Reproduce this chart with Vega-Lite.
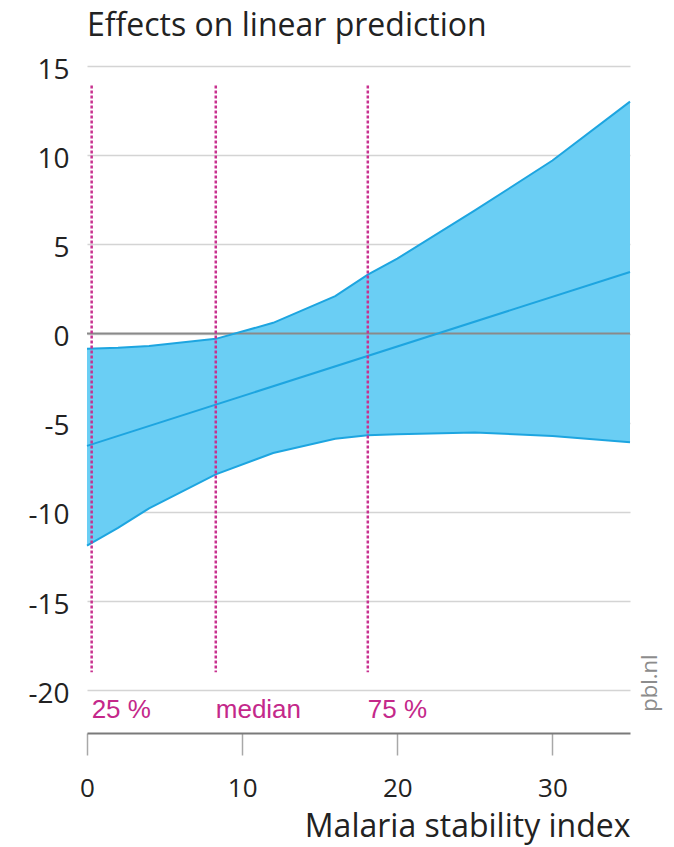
{
  "$schema": "https://vega.github.io/schema/vega-lite/v6.json",
  "width": 543,
  "height": 667,
  "autosize": {"type": "none"},
  "padding": {"left": 87, "top": 66, "right": 44, "bottom": 114},
  "background": "white",
  "config": {
    "view": {"stroke": null},
    "font": "Open Sans"
  },
  "title": {
    "text": "Effects on linear prediction",
    "anchor": "start",
    "frame": "group",
    "baseline": "alphabetic",
    "offset": -12,
    "fontSize": 32,
    "fontWeight": "normal",
    "font": "Open Sans",
    "color": "#222222"
  },
  "datasets": {
    "band": [
      {"x": 0, "lo": -11.9, "hi": -0.85},
      {"x": 2, "lo": -10.9, "hi": -0.8},
      {"x": 4, "lo": -9.8, "hi": -0.7},
      {"x": 8.3, "lo": -7.9, "hi": -0.3},
      {"x": 12, "lo": -6.7, "hi": 0.6},
      {"x": 16, "lo": -5.9, "hi": 2.1},
      {"x": 18.1, "lo": -5.7, "hi": 3.3},
      {"x": 20, "lo": -5.65, "hi": 4.2},
      {"x": 25, "lo": -5.55, "hi": 6.9},
      {"x": 30, "lo": -5.75, "hi": 9.7},
      {"x": 35, "lo": -6.1, "hi": 13.0}
    ],
    "fit": [
      {"x": 0, "effect": -6.3},
      {"x": 35, "effect": 3.45}
    ],
    "quartiles": [
      {"x": 0.3, "label": "25 %"},
      {"x": 8.3, "label": "median"},
      {"x": 18.1, "label": "75 %"}
    ],
    "source": [
      {"x": 36.3, "y": -19.6, "label": "pbl.nl"}
    ]
  },
  "layer": [
    {
      "data": {"name": "band"},
      "mark": {"type": "area", "color": "#6acef4", "opacity": 1},
      "encoding": {
        "x": {
          "field": "x",
          "type": "quantitative",
          "scale": {"domain": [0, 35], "nice": false, "zero": false},
          "axis": {
            "values": [0, 10, 20, 30],
            "title": "Malaria stability index",
            "titleAnchor": "end",
            "titleAlign": "right",
            "titleFontSize": 32,
            "titleFontWeight": "normal",
            "titleColor": "#222222",
            "titlePadding": 10,
            "titleFont": "Open Sans",
            "grid": false,
            "domain": true,
            "domainColor": "#7a7a7a",
            "domainWidth": 2,
            "ticks": true,
            "tickColor": "#a8a8a8",
            "tickWidth": 1.5,
            "tickSize": 22,
            "labelFlush": false,
            "labelPadding": 20,
            "labelFontSize": 26,
            "labelColor": "#222222",
            "labelFont": "Open Sans"
          }
        },
        "y": {
          "field": "lo",
          "type": "quantitative",
          "scale": {"domain": [-22.4, 15], "nice": false, "zero": false},
          "axis": {
            "values": [-20, -15, -10, -5, 0, 5, 10, 15],
            "labelExpr": "datum.value < 0 ? '-' + abs(datum.value) : '' + datum.value",
            "title": null,
            "grid": true,
            "gridColor": "#d4d4d4",
            "gridWidth": 1.5,
            "domain": false,
            "ticks": false,
            "labelPadding": 18,
            "labelOffset": 4,
            "labelFontSize": 28,
            "labelColor": "#222222",
            "labelFont": "Open Sans"
          }
        },
        "y2": {"field": "hi"}
      }
    },
    {
      "mark": {"type": "rule", "color": "#8a8a8a", "strokeWidth": 2},
      "encoding": {"y": {"datum": 0, "type": "quantitative"}}
    },
    {
      "data": {"name": "band"},
      "mark": {"type": "line", "color": "#1da5e0", "strokeWidth": 2},
      "encoding": {
        "x": {"field": "x", "type": "quantitative"},
        "y": {"field": "hi", "type": "quantitative"}
      }
    },
    {
      "data": {"name": "band"},
      "mark": {"type": "line", "color": "#1da5e0", "strokeWidth": 2},
      "encoding": {
        "x": {"field": "x", "type": "quantitative"},
        "y": {"field": "lo", "type": "quantitative"}
      }
    },
    {
      "data": {"name": "fit"},
      "mark": {"type": "line", "color": "#1da5e0", "strokeWidth": 2},
      "encoding": {
        "x": {"field": "x", "type": "quantitative"},
        "y": {"field": "effect", "type": "quantitative"}
      }
    },
    {
      "data": {"name": "quartiles"},
      "mark": {"type": "rule", "color": "#c8318f", "strokeWidth": 2.5, "strokeDash": [3, 2]},
      "encoding": {
        "x": {"field": "x", "type": "quantitative"},
        "y": {"datum": 13.9, "type": "quantitative"},
        "y2": {"datum": -19.0}
      }
    },
    {
      "data": {"name": "quartiles"},
      "mark": {"type": "text", "color": "#c4288a", "font": "Liberation Sans", "fontSize": 26, "align": "left", "baseline": "middle", "dx": 0},
      "encoding": {
        "x": {"field": "x", "type": "quantitative"},
        "y": {"datum": -21.1, "type": "quantitative"},
        "text": {"field": "label"}
      }
    },
    {
      "data": {"name": "source"},
      "mark": {"type": "text", "color": "#8c8c8c", "font": "Open Sans", "fontSize": 22, "angle": 270, "align": "center", "baseline": "middle"},
      "encoding": {
        "x": {"field": "x", "type": "quantitative"},
        "y": {"field": "y", "type": "quantitative"},
        "text": {"field": "label"}
      }
    }
  ]
}
